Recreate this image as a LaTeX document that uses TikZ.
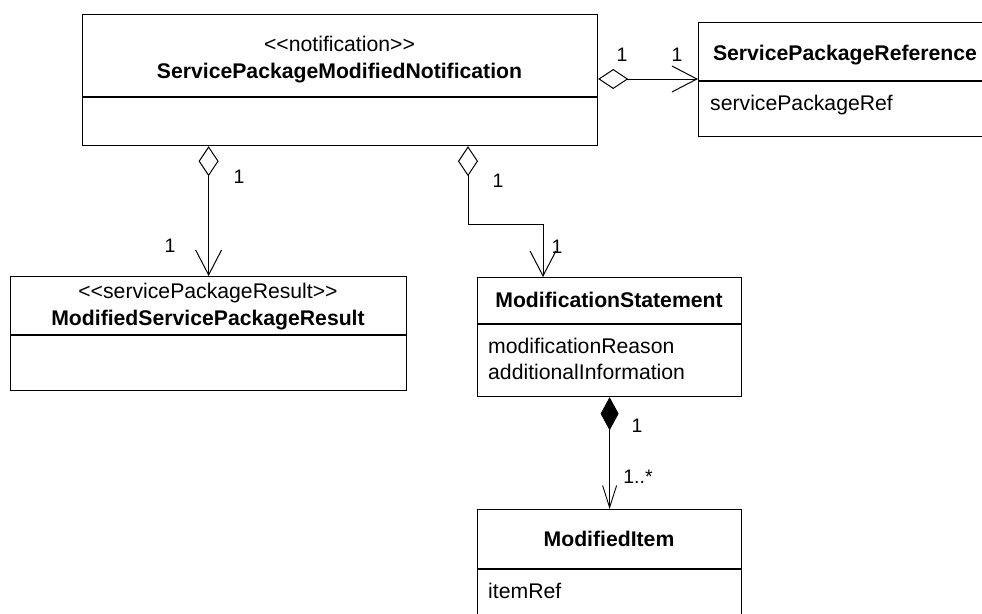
\documentclass[tikz,border=0pt]{standalone}
\usepackage{fontspec}
\setmainfont{Liberation Sans}
\usetikzlibrary{arrows.meta}
\begin{document}
\begin{tikzpicture}[x=1pt,y=-1pt,
  cls/.style={draw, line width=1.2pt, inner sep=0pt, anchor=north west},
  txt/.style={anchor=base, inner sep=0pt, font=\fontsize{21.2}{25}\selectfont},
  bold/.style={anchor=base, inner sep=0pt, font=\fontsize{21.2}{25}\selectfont\bfseries},
  attr/.style={anchor=base west, inner sep=0pt, font=\fontsize{21.2}{26}\selectfont},
  lbl/.style={anchor=base, inner sep=0pt, font=\fontsize{19.5}{23}\selectfont},
  sep/.style={line width=1.2pt},
  barb/.tip={Straight Barb[length=25pt,width=26pt,line width=1pt]},
  agg/.style={line width=0.9pt, {Diamond[open,length=30pt,width=20pt,line width=1pt]}-barb},
  comp/.style={line width=0.9pt, {Diamond[length=33pt,width=18pt]}-{Straight Barb[length=22pt,width=14pt,line width=0.9pt]}}
]
\useasboundingbox (0,0) rectangle (982,613);
\clip (0,0) rectangle (982,613);

% ServicePackageModifiedNotification
\node[cls, minimum width=515pt, minimum height=131pt] (spmn) at (82,14) {};
\node[txt] (spmnS) at (339.5,51) {{<}{<}notification{>}{>}};
\node[bold] (spmnN) at (339.5,78) {ServicePackageModifiedNotification};
\draw[sep] (spmn.west |- 0,97) -- (spmn.east |- 0,97);

% ServicePackageReference
\node[cls, minimum width=294pt, minimum height=114pt] (spr) at (698,22) {};
\node[bold] (sprN) at (845,60) {ServicePackageReference};
\draw[sep] (spr.west |- 0,81) -- (spr.east |- 0,81);
\node[attr] (sprA) at (710,110) {servicePackageRef};

% ModifiedServicePackageResult
\node[cls, minimum width=396pt, minimum height=114pt] (mspr) at (10,276) {};
\node[txt] (msprS) at (208,298) {{<}{<}servicePackageResult{>}{>}};
\node[bold] (msprN) at (208,325) {ModifiedServicePackageResult};
\draw[sep] (mspr.west |- 0,335) -- (mspr.east |- 0,335);

% ModificationStatement
\node[cls, minimum width=264pt, minimum height=119pt] (ms) at (477,277) {};
\node[bold] (msN) at (609,307) {ModificationStatement};
\draw[sep] (ms.west |- 0,324) -- (ms.east |- 0,324);
\node[attr] (msA1) at (488,353) {modificationReason};
\node[attr] (msA2) at (488,379) {additionalInformation};

% ModifiedItem
\node[cls, minimum width=264pt, minimum height=130pt] (mi) at (477,509) {};
\node[bold] (miN) at (609,546) {ModifiedItem};
\draw[sep] (mi.west |- 0,569) -- (mi.east |- 0,569);
\node[attr] (miA) at (488,598) {itemRef};

% connectors
\draw[agg] (spmn.east |- 0,79) -- (spr.west |- 0,79);
\draw[agg] (spmn.south -| mspr.north) -- (mspr.north);
\draw[agg] (spmn.south -| 468,0) |- (543,224) -- (ms.north -| 543,0);
\draw[comp] (ms.south) -- (mi.north);

% multiplicities
\node[lbl] (l1) at (622,61) {1};
\node[lbl] (l2) at (677,61) {1};
\node[lbl] (l3) at (239,183) {1};
\node[lbl] (l4) at (170,252) {1};
\node[lbl] (l5) at (498,187) {1};
\node[lbl] (l6) at (557,253) {1};
\node[lbl] (l7) at (637,432) {1};
\node[lbl] (l8) at (638,483) {1..*};
\end{tikzpicture}
\end{document}
